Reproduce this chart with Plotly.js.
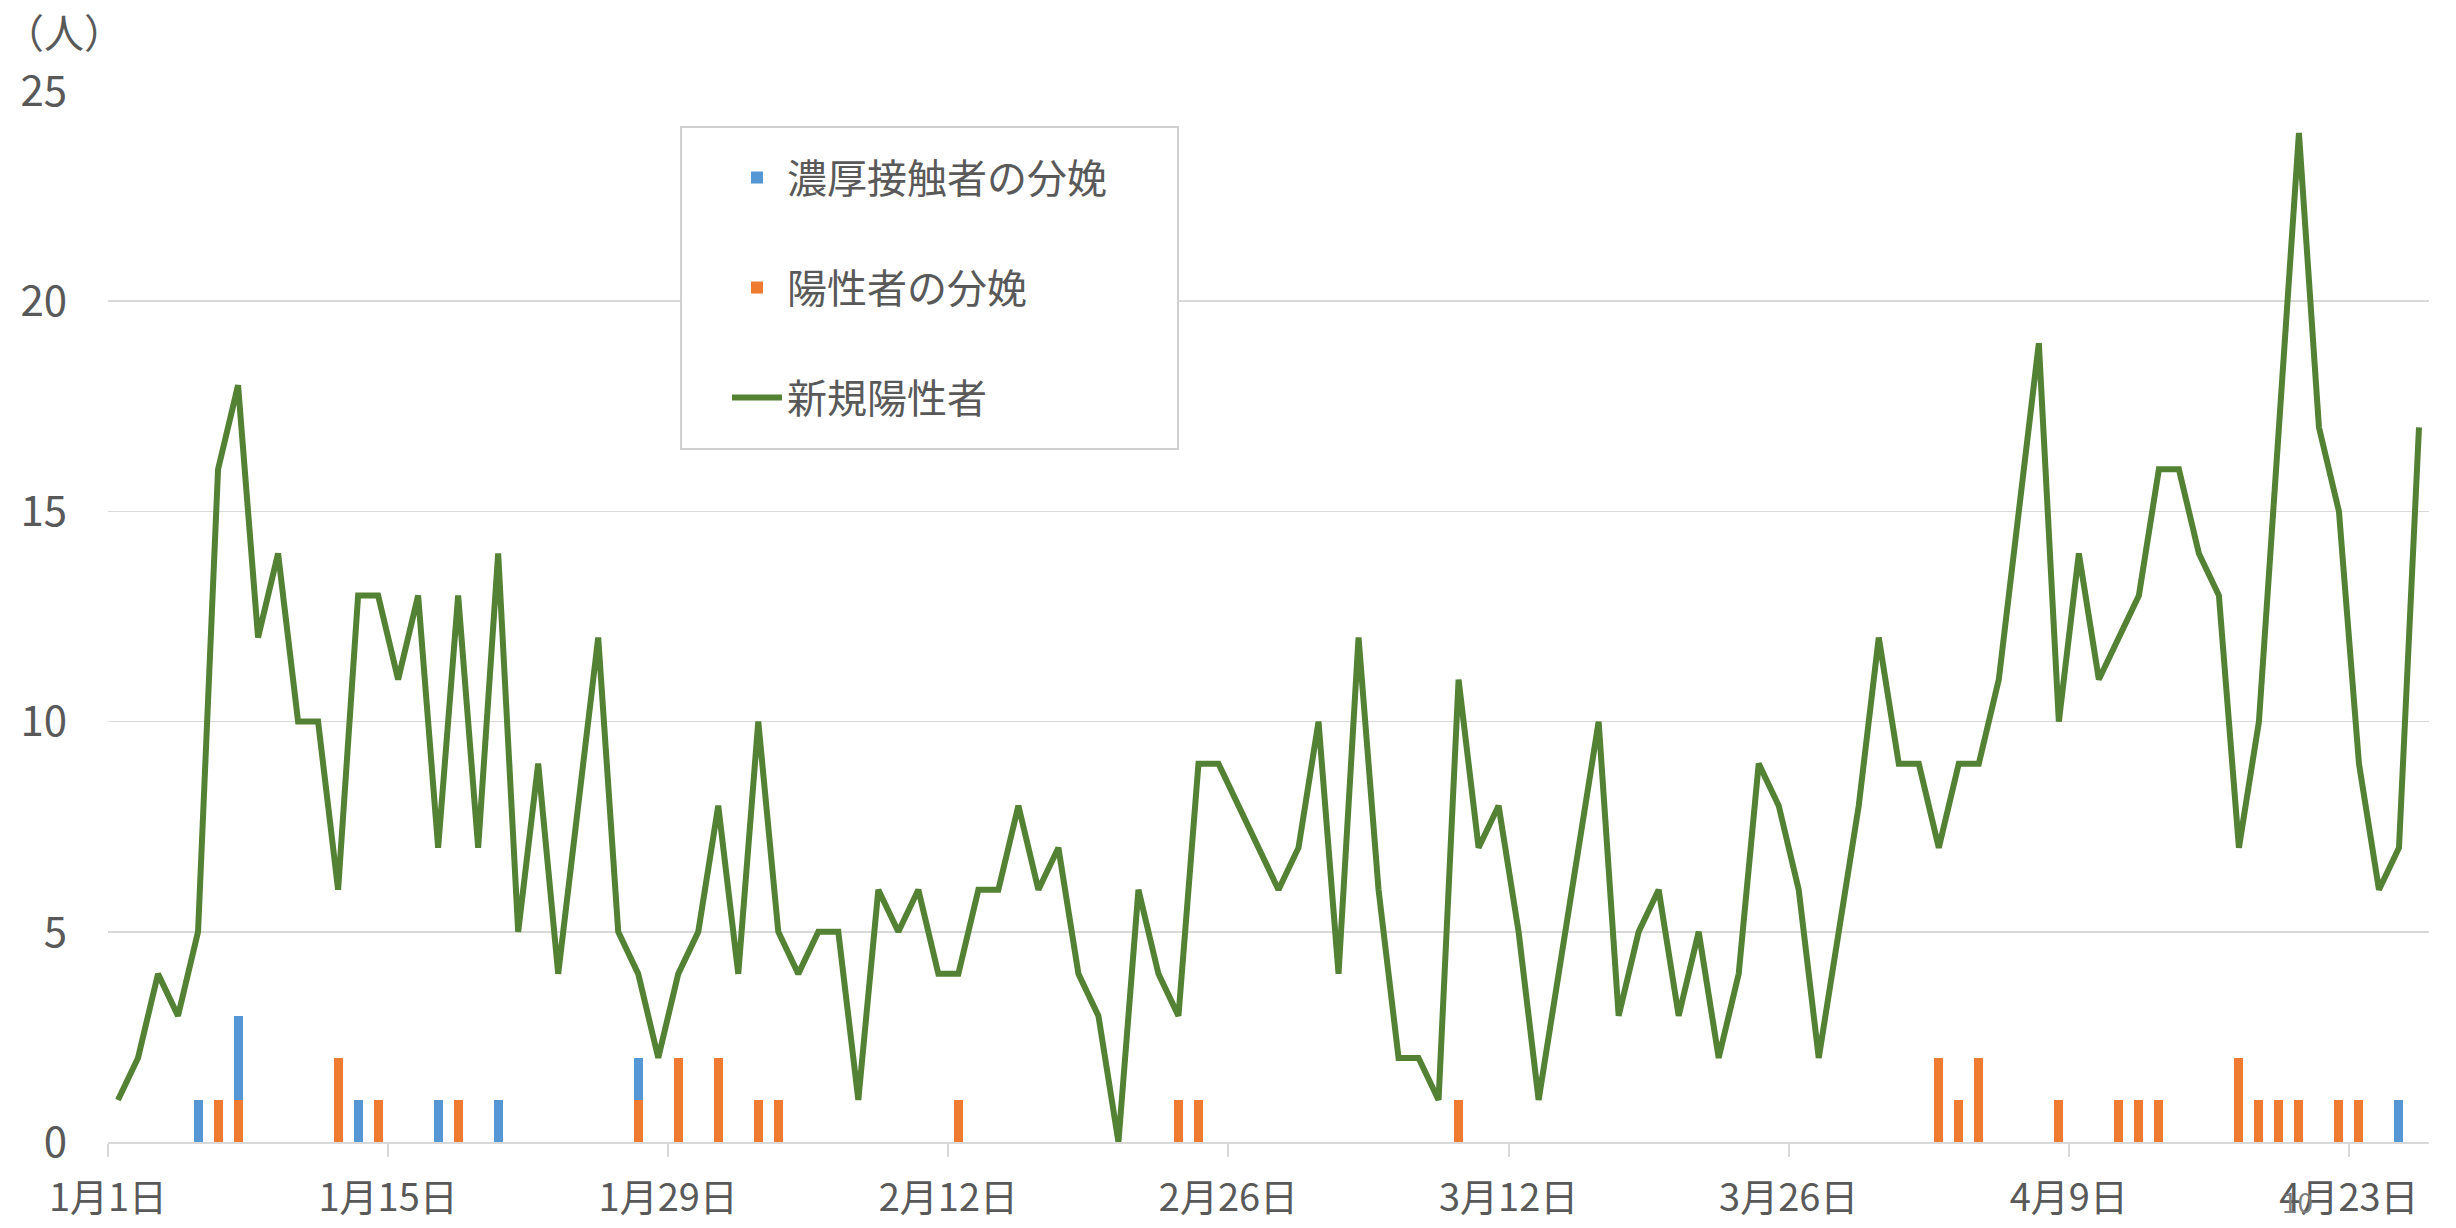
<!DOCTYPE html>
<html>
<head>
<meta charset="utf-8">
<script src="https://cdn.plot.ly/plotly-3.0.1.min.js"></script>
<style>
  body { margin: 0; background: #fff; }
  #chart { width: 2456px; height: 1228px; }
</style>
</head>
<body>
<div id="chart"></div>
<script>
// daily new positives, 2021-01-01 .. 2021-04-26
var startDate = '2021-01-01';
var newPositive = [1,2,4,3,5,16,18,12,14,10, 10,6,13,13,11,13,7,13,7,14,
    5,9,4,8,12,5,4,2,4,5, 8,4,10,5,4,5,5,1,6,5,
    6,4,4,6,6,8,6,7,4,3, 0,6,4,3,9,9,8,7,6,7,
    10,4,12,6,2,2,1,11,7,8, 5,1,4,7,10,3,5,6,3,5,
    2,4,9,8,6,2,5,8,12,9, 9,7,9,9,11,15,19,10,14,11,
    12,13,16,16,14,13,7,10,17,24, 17,15,9,6,7,17];

// births by close contacts
var contactDates = ['2021-01-05','2021-01-07','2021-01-13','2021-01-17','2021-01-20','2021-01-27','2021-04-25'];
var contactBirths = [1,2,1,1,1,1,1];

// births by positives
var positiveDates = ['2021-01-06','2021-01-07','2021-01-12','2021-01-14','2021-01-18','2021-01-27',
    '2021-01-29','2021-01-31','2021-02-02','2021-02-03','2021-02-12','2021-02-23','2021-02-24',
    '2021-03-09','2021-04-02','2021-04-03','2021-04-04','2021-04-08','2021-04-11','2021-04-12',
    '2021-04-13','2021-04-17','2021-04-18','2021-04-19','2021-04-20','2021-04-22','2021-04-23'];
var positiveBirths = [1,1,2,1,1,1, 2,2,1,1,1,1,1, 1,2,1,2,1,1,1, 1,2,1,1,1,1,1];

var tickDates = ['2021-01-01','2021-01-15','2021-01-29','2021-02-12','2021-02-26','2021-03-12','2021-03-26','2021-04-09','2021-04-23'];
var tickLabels = ['1月1日','1月15日','1月29日','2月12日','2月26日','3月12日','3月26日','4月9日','4月23日'];

var DAY = 86400000;

// put each value in the middle of its day
function noon(d) { return d + ' 12:00'; }

var lineDates = [];
var t0 = Date.parse(startDate + 'T00:00:00Z');
for (var i = 0; i < newPositive.length; i++) {
    lineDates.push(noon(new Date(t0 + i * DAY).toISOString().slice(0, 10)));
}

var font = 'Noto Sans CJK JP, Noto Sans, sans-serif';
var grey = '#595959';

var data = [
    {
        type: 'bar',
        name: '陽性者の分娩',
        x: positiveDates.map(noon),
        y: positiveBirths,
        width: 0.45 * DAY,
        marker: { color: '#ee7b30' },
        legendgroup: 'b',
        legendrank: 2
    },
    {
        type: 'bar',
        name: '濃厚接触者の分娩',
        x: contactDates.map(noon),
        y: contactBirths,
        width: 0.45 * DAY,
        marker: { color: '#5596d4' },
        legendgroup: 'a',
        legendrank: 1
    },
    {
        type: 'scatter',
        mode: 'lines',
        name: '新規陽性者',
        x: lineDates,
        y: newPositive,
        line: { color: '#548235', width: 6 },
        legendgroup: 'c',
        legendrank: 3
    }
];

var layout = {
    width: 2456,
    height: 1228,
    margin: { l: 108, r: 27, t: 91, b: 86 },
    paper_bgcolor: '#fff',
    plot_bgcolor: '#fff',
    barmode: 'stack',
    font: { family: font, color: grey, size: 40 },
    showlegend: true,
    xaxis: {
        type: 'date',
        range: ['2021-01-01', '2021-04-27'],
        tickvals: tickDates,
        ticktext: tickLabels,
        ticks: 'outside',
        ticklen: 13,
        tickwidth: 2,
        tickcolor: '#d9d9d9',
        showline: true,
        linecolor: '#d9d9d9',
        linewidth: 2,
        showgrid: false,
        zeroline: false,
        tickfont: { family: font, size: 38, color: grey },
        ticklabelstandoff: 8
    },
    yaxis: {
        range: [0, 25],
        dtick: 5,
        gridcolor: '#d9d9d9',
        gridwidth: 1.5,
        zeroline: false,
        showline: false,
        tickfont: { family: font, size: 42, color: grey },
        ticklabelstandoff: 40
    },
    legend: {
        x: 0.2667,
        y: 0.9486,
        xanchor: 'left',
        yanchor: 'top',
        bgcolor: 'rgba(0,0,0,0)',
        borderwidth: 0,
        font: { family: font, size: 40, color: grey },
        itemwidth: 50,
        traceorder: 'grouped',
        tracegroupgap: 55
    },
    shapes: [{
        type: 'rect',
        xref: 'paper', yref: 'paper',
        x0: 0.2469, x1: 0.4610, y0: 0.6594, y1: 0.9657,
        line: { color: '#d0d0d0', width: 2 },
        fillcolor: '#fff',
        layer: 'above'
    }],
    annotations: [
        {
            text: '（人）',
            xref: 'paper', yref: 'paper',
            x: 0, y: 1,
            xanchor: 'left', yanchor: 'middle',
            xshift: -106, yshift: 60,
            showarrow: false,
            font: { family: font, size: 40, color: grey }
        },
        {
            text: '10',
            xref: 'paper', yref: 'paper',
            x: 0.9435, y: -0.056,
            xanchor: 'center', yanchor: 'middle',
            showarrow: false,
            font: { family: font, size: 28, color: '#7f7f7f' }
        }
    ],
    hovermode: false
};

Plotly.newPlot('chart', data, layout, { displayModeBar: false, staticPlot: true });
</script>
</body>
</html>
